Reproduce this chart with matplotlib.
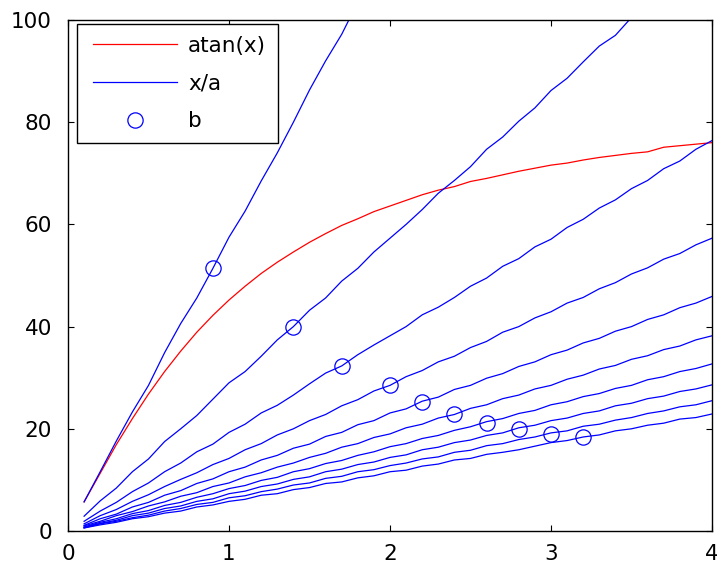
import matplotlib
matplotlib.use("Agg")
import matplotlib.pyplot as plt
from matplotlib.lines import Line2D
from matplotlib.legend_handler import HandlerLine2D

plt.rcParams['font.family'] = ['DejaVu Sans']

# x samples
x = [0.1, 0.2, 0.3, 0.4, 0.5, 0.6, 0.7, 0.8, 0.9, 1.0,
     1.1, 1.2, 1.3, 1.4, 1.5, 1.6, 1.7, 1.8, 1.9, 2.0,
     2.1, 2.2, 2.3, 2.4, 2.5, 2.6, 2.7, 2.8, 2.9, 3.0,
     3.1, 3.2, 3.3, 3.4, 3.5, 3.6, 3.7, 3.8, 3.9, 4.0]

# red curve: atan(x) (degrees)
atan_y = [5.7, 11.3, 16.9, 22.0, 26.8, 31.2, 35.2, 38.9, 42.2, 45.2,
          47.9, 50.4, 52.6, 54.6, 56.5, 58.2, 59.8, 61.1, 62.5, 63.6,
          64.7, 65.8, 66.7, 67.4, 68.4, 69.0, 69.7, 70.4, 71.0, 71.6,
          72.0, 72.6, 73.1, 73.5, 73.9, 74.2, 75.1, 75.4, 75.7, 76.0]

# blue lines: x/a
xa1 = [5.7, 11.6, 17.6, 23.3, 28.5, 34.9, 40.6, 45.6, 51.4, 57.5,
       62.6, 68.5, 74.0, 80.0, 86.3, 92.0, 97.2, 103.5, 108.9, 114.6,
       120.3, 126.1, 131.8, 137.5, 143.2, 149.0, 154.7, 160.4, 166.2, 171.9,
       177.6, 183.3, 189.1, 194.8, 200.5, 206.3, 212.0, 217.7, 223.5, 229.2]
xa2 = [2.9, 5.9, 8.4, 11.6, 14.1, 17.5, 20.0, 22.6, 25.8, 29.0,
       31.2, 34.2, 37.4, 40.0, 43.2, 45.6, 48.9, 51.4, 54.6, 57.3,
       60.0, 62.9, 66.1, 68.6, 71.3, 74.7, 77.1, 80.2, 82.8, 86.2,
       88.6, 91.8, 94.9, 97.0, 100.5, 103.3, 105.8, 109.1, 111.5, 114.8]
xa3 = [1.9, 3.9, 5.6, 7.7, 9.4, 11.6, 13.3, 15.5, 17.0, 19.3,
       20.9, 23.1, 24.6, 26.6, 28.8, 30.9, 32.3, 34.5, 36.4, 38.2,
       40.0, 42.3, 43.8, 45.7, 47.9, 49.5, 51.8, 53.3, 55.6, 57.1,
       59.4, 61.0, 63.2, 64.8, 67.0, 68.6, 70.9, 72.4, 74.7, 76.4]
xa4 = [1.4, 3.0, 4.2, 5.8, 7.1, 8.7, 10.1, 11.4, 13.0, 14.2,
       15.9, 17.1, 18.8, 20.0, 21.6, 22.8, 24.5, 25.7, 27.4, 28.5,
       30.2, 31.4, 33.1, 34.2, 35.9, 37.1, 38.9, 40.0, 41.7, 42.9,
       44.6, 45.7, 47.4, 48.6, 50.3, 51.5, 53.2, 54.3, 56.0, 57.3]
xa5 = [1.1, 2.4, 3.3, 4.7, 5.6, 7.0, 7.9, 9.3, 10.2, 11.6,
       12.5, 13.9, 14.8, 16.2, 17.0, 18.5, 19.3, 20.8, 21.6, 23.1,
       23.9, 25.4, 26.2, 27.7, 28.5, 29.9, 30.8, 32.2, 33.1, 34.5,
       35.4, 36.8, 37.7, 39.1, 40.0, 41.4, 42.3, 43.7, 44.6, 45.9]
xa6 = [1.0, 1.9, 3.0, 3.8, 4.9, 5.7, 6.8, 7.5, 8.7, 9.4,
       10.6, 11.4, 12.5, 13.3, 14.4, 15.2, 16.4, 17.1, 18.3, 19.0,
       20.2, 20.9, 22.1, 22.8, 24.0, 24.7, 25.9, 26.6, 27.8, 28.5,
       29.7, 30.5, 31.7, 32.4, 33.6, 34.3, 35.5, 36.2, 37.4, 38.2]
xa7 = [0.8, 1.7, 2.4, 3.4, 4.0, 5.0, 5.6, 6.6, 7.3, 8.3,
       8.9, 9.9, 10.5, 11.6, 12.2, 13.2, 13.8, 14.8, 15.5, 16.5,
       17.1, 18.1, 18.7, 19.7, 20.4, 21.4, 22.0, 23.0, 23.6, 24.7,
       25.3, 26.3, 26.9, 27.9, 28.5, 29.6, 30.2, 31.2, 31.8, 32.7]
xa8 = [0.7, 1.5, 2.1, 3.0, 3.5, 4.4, 4.9, 5.8, 6.3, 7.3,
       7.8, 8.7, 9.2, 10.1, 10.6, 11.6, 12.1, 13.0, 13.5, 14.4,
       14.9, 15.9, 16.4, 17.3, 17.8, 18.7, 19.2, 20.2, 20.7, 21.6,
       22.1, 23.0, 23.5, 24.5, 25.0, 25.9, 26.4, 27.3, 27.8, 28.6]
xa9 = [0.6, 1.4, 1.9, 2.6, 3.1, 3.9, 4.4, 5.2, 5.6, 6.5,
       6.9, 7.7, 8.2, 9.0, 9.4, 10.3, 10.7, 11.6, 12.0, 12.8,
       13.3, 14.1, 14.5, 15.4, 15.8, 16.7, 17.1, 17.9, 18.4, 19.2,
       19.6, 20.5, 20.9, 21.7, 22.2, 23.0, 23.5, 24.3, 24.7, 25.5]
xa10 = [0.6, 1.2, 1.7, 2.4, 2.8, 3.5, 3.9, 4.7, 5.1, 5.8,
        6.2, 7.0, 7.3, 8.1, 8.5, 9.3, 9.6, 10.4, 10.8, 11.6,
        11.9, 12.7, 13.1, 13.9, 14.2, 15.0, 15.4, 15.9, 16.6, 17.3,
        17.7, 18.4, 18.8, 19.6, 20.0, 20.7, 21.1, 21.9, 22.2, 22.9]
blue_lines = [xa1, xa2, xa3, xa4, xa5, xa6, xa7, xa8, xa9, xa10]

# circle markers b
b_x = [0.9, 1.4, 1.7, 2.0, 2.2, 2.4, 2.6, 2.8, 3.0, 3.2]
b_y = [51.4, 40.0, 32.2, 28.6, 25.3, 22.9, 21.2, 19.9, 18.9, 18.3]

x_ticks = [0, 1, 2, 3, 4]
y_ticks = [0, 20, 40, 60, 80, 100]

fig = plt.figure(figsize=(7.17, 5.65), dpi=100)
ax = fig.add_axes([68 / 717, (565 - 531) / 565, 644 / 717, 511 / 565])

ax.plot(x, atan_y, color='#ff0000', lw=0.9, label='atan(x)')
for i, yy in enumerate(blue_lines):
    ax.plot(x, yy, color='#0000ff', lw=0.9, label='x/a' if i == 0 else None)
ax.plot(b_x, b_y, linestyle='none', marker='o', markersize=11,
        markerfacecolor='none', markeredgecolor='#0000ff', markeredgewidth=0.9,
        label='b')

ax.set_xlim(0, 4)
ax.set_ylim(0, 100)
ax.set_xticks(x_ticks)
ax.set_yticks(y_ticks)
ax.tick_params(direction='in', length=4, width=0.8, top=True, right=True,
               labelsize=15.5, pad=9)
ax.tick_params(axis='y', pad=11.5)
for s in ax.spines.values():
    s.set_linewidth(1.0)

leg = ax.legend(loc='upper left', bbox_to_anchor=(0.014, 0.992), borderaxespad=0,
                fontsize=15.5, frameon=True, fancybox=False, edgecolor='black',
                framealpha=1, handlelength=4.10, handletextpad=0.51,
                labelspacing=0.82, borderpad=0.55,
                handler_map={Line2D: HandlerLine2D(xpad=0.195)})
leg.get_frame().set_linewidth(1.0)

fig.savefig('out.png', dpi=100)
